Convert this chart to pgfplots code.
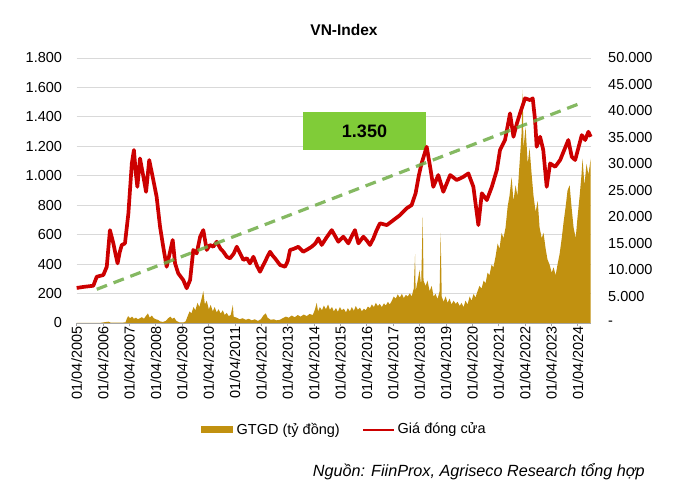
\documentclass[border=0pt]{standalone}
\usepackage{fontspec}
\setmainfont{Liberation Sans}
\usepackage{pgfplots}
\pgfplotsset{compat=1.18}
\definecolor{gold}{RGB}{193,145,16}
\definecolor{vnred}{RGB}{204,0,0}
\definecolor{trend}{RGB}{112,173,71}
\definecolor{boxgreen}{RGB}{128,204,56}
\definecolor{gridc}{RGB}{217,217,217}
\begin{document}
\begin{tikzpicture}[x=1pt,y=1pt]
\path[use as bounding box] (0,0) rectangle (694,500);
\pgfplotsset{
  base/.style={at={(76.7pt,177pt)}, anchor=south west, scale only axis,
    width=514.3pt, height=265pt, xmin=2005.25, xmax=2024.75,
    tick label style={font=\fontsize{14.5}{16}\selectfont},
    clip=false},
}
% axis A: grid, left labels, x axis
\begin{axis}[base, ymin=0, ymax=1800,
  axis y line*=left, axis x line*=bottom,
  ytick={0,200,400,600,800,1000,1200,1400,1600,1800},
  yticklabels={0,200,400,600,800,1.000,1.200,1.400,1.600,1.800},
  ymajorgrids, grid style={draw=gridc, line width=0.9pt},
  y axis line style={draw=none},
  major y tick style={draw=none},
  yticklabel style={anchor=east, inner sep=0pt, xshift=-11pt},
  xtick={2005.25,2006.25,2007.25,2008.25,2009.25,2010.25,2011.25,2012.25,2013.25,2014.25,2015.25,2016.25,2017.25,2018.25,2019.25,2020.25,2021.25,2022.25,2023.25,2024.25},
  xticklabels={01/04/2005,01/04/2006,01/04/2007,01/04/2008,01/04/2009,01/04/2010,01/04/2011,01/04/2012,01/04/2013,01/04/2014,01/04/2015,01/04/2016,01/04/2017,01/04/2018,01/04/2019,01/04/2020,01/04/2021,01/04/2022,01/04/2023,01/04/2024},
  xticklabel style={rotate=90, anchor=east, inner sep=0pt},
  x axis line style={draw=gray!70, line width=0.8pt, -},
  major x tick style={draw=gray!70, line width=0.8pt},
  tick align=outside, major tick length=3.5pt,
]
\addplot[draw=none] coordinates {(2005.25,0)};
\end{axis}
% axis B: trading value bars
\begin{axis}[base, ymin=0, ymax=50000, scaled y ticks=false,
  axis y line*=right, axis x line=none,
  ytick={0,5000,10000,15000,20000,25000,30000,35000,40000,45000,50000},
  yticklabels={-,5.000,10.000,15.000,20.000,25.000,30.000,35.000,40.000,45.000,50.000},
  y axis line style={draw=none}, major y tick style={draw=none},
  yticklabel style={anchor=west, inner sep=0pt, xshift=17pt},
]
\addplot[fill=gold, draw=none] table {
x y
2005.25 0
2006.10 0
2006.45 250
2006.55 50
2007.10 100
2007.15 800
2007.20 1300
2007.27 900
2007.35 1200
2007.42 800
2007.50 1000
2007.57 700
2007.65 900
2007.72 1100
2007.80 800
2007.87 1300
2007.95 1800
2008.02 1000
2008.10 1400
2008.17 900
2008.25 700
2008.33 600
2008.41 300
2008.52 200
2008.63 400
2008.72 900
2008.80 1200
2008.87 800
2008.95 1000
2009.03 400
2009.15 100
2009.30 100
2009.38 300
2009.45 1200
2009.53 2200
2009.60 1800
2009.68 3000
2009.75 2400
2009.83 3800
2009.90 3000
2009.98 4500
2010.05 6000
2010.11 3500
2010.18 4200
2010.26 2600
2010.33 3400
2010.41 2200
2010.48 3000
2010.56 2000
2010.63 2600
2010.71 1800
2010.79 2400
2010.86 1500
2010.94 1900
2011.01 1300
2011.09 1500
2011.17 3400
2011.20 1200
2011.32 1000
2011.43 700
2011.54 900
2011.66 600
2011.77 800
2011.89 500
2012.00 700
2012.12 400
2012.23 700
2012.34 1500
2012.42 1800
2012.49 1000
2012.61 600
2012.72 700
2012.83 500
2012.95 600
2013.06 900
2013.18 1200
2013.29 1000
2013.40 1400
2013.52 1100
2013.63 1500
2013.74 1200
2013.86 1600
2013.97 1300
2014.08 1700
2014.20 1500
2014.28 2500
2014.35 3800
2014.40 2200
2014.47 3000
2014.55 2400
2014.62 3300
2014.70 2600
2014.78 3500
2014.85 2500
2014.93 3000
2015.00 2200
2015.08 2800
2015.15 2100
2015.23 3000
2015.30 2400
2015.38 2700
2015.46 2000
2015.53 2800
2015.61 2200
2015.68 3000
2015.76 2300
2015.83 3200
2015.91 2500
2015.99 2900
2016.06 2200
2016.14 2700
2016.21 2400
2016.29 3100
2016.37 2800
2016.44 3500
2016.52 3000
2016.59 3800
2016.67 3200
2016.74 3600
2016.82 3000
2016.90 3700
2016.97 3300
2017.05 4000
2017.12 3500
2017.20 4200
2017.27 5000
2017.35 4600
2017.42 5400
2017.50 4800
2017.58 5500
2017.65 4700
2017.73 5300
2017.80 5000
2017.88 5600
2017.95 5000
2018.03 6500
2018.08 13000
2018.10 6000
2018.18 8000
2018.25 10000
2018.31 7000
2018.37 20000
2018.40 8000
2018.48 7000
2018.55 8000
2018.63 6000
2018.71 7000
2018.78 5000
2018.86 5500
2018.93 4500
2019.01 6000
2019.05 17000
2019.09 5000
2019.16 4000
2019.24 5000
2019.31 3800
2019.39 4600
2019.46 3500
2019.54 4200
2019.62 3600
2019.69 4000
2019.77 3200
2019.84 3800
2019.92 3000
2019.99 4200
2020.07 3500
2020.15 5000
2020.22 4200
2020.30 5500
2020.37 4800
2020.45 6000
2020.52 7000
2020.60 6500
2020.68 8000
2020.75 7500
2020.83 9500
2020.90 9000
2020.98 11000
2021.05 10500
2021.13 12500
2021.21 15000
2021.28 14000
2021.36 17000
2021.43 16000
2021.51 18000
2021.59 22000
2021.66 24000
2021.74 27500
2021.81 23000
2021.89 26000
2021.96 24000
2022.04 30000
2022.12 36000
2022.16 44000
2022.19 33000
2022.27 37000
2022.35 30000
2022.42 33000
2022.50 28000
2022.57 24000
2022.65 21000
2022.73 23000
2022.80 18000
2022.88 16000
2022.95 17000
2023.03 14000
2023.10 12000
2023.18 11000
2023.26 9500
2023.33 10500
2023.41 9000
2023.48 11000
2023.56 13000
2023.64 16000
2023.71 19000
2023.79 22000
2023.86 25000
2023.94 26000
2024.01 22000
2024.09 18000
2024.17 16000
2024.24 20000
2024.32 24000
2024.39 28000
2024.43 31000
2024.50 26000
2024.58 30000
2024.65 28000
2024.74 31000
2024.74 0
};
\end{axis}
% green box
\fill[boxgreen] (303,350) rectangle (426,388);
\node[font=\fontsize{18}{20}\selectfont\bfseries] at (364.5,369) {1.350};
% axis C: price line and trend line
\begin{axis}[base, ymin=0, ymax=1800, hide axis]
\addplot[vnred, line width=3.7pt, line join=round] table {
x y
2005.25 238
2005.50 245
2005.88 253
2006.01 314
2006.26 326
2006.39 382
2006.51 631
2006.64 541
2006.72 470
2006.80 405
2006.88 480
2006.96 530
2007.08 541
2007.21 745
2007.34 1084
2007.42 1175
2007.49 1020
2007.55 925
2007.65 1118
2007.72 1050
2007.78 993
2007.88 891
2008.00 1107
2008.13 993
2008.28 858
2008.41 654
2008.53 518
2008.66 382
2008.79 484
2008.89 564
2008.98 405
2009.10 337
2009.29 292
2009.42 236
2009.55 292
2009.67 496
2009.80 473
2009.93 586
2010.05 631
2010.18 496
2010.30 530
2010.43 518
2010.56 552
2010.70 505
2010.81 484
2010.94 450
2011.06 439
2011.20 470
2011.32 518
2011.45 470
2011.57 428
2011.70 440
2011.82 405
2011.95 450
2012.08 390
2012.20 348
2012.30 385
2012.39 416
2012.48 450
2012.58 484
2012.67 460
2012.77 439
2012.96 394
2013.15 382
2013.25 420
2013.34 496
2013.50 505
2013.65 518
2013.84 484
2014.00 500
2014.16 518
2014.30 540
2014.41 575
2014.54 530
2014.72 580
2014.92 631
2015.05 590
2015.17 552
2015.36 586
2015.55 541
2015.68 590
2015.80 631
2015.93 541
2016.12 586
2016.25 560
2016.37 530
2016.50 575
2016.62 630
2016.75 677
2017.01 665
2017.26 699
2017.51 733
2017.76 779
2017.95 801
2018.10 881
2018.22 1000
2018.32 1080
2018.52 1197
2018.65 1061
2018.77 925
2018.96 1005
2019.15 891
2019.41 1005
2019.66 971
2019.91 993
2020.10 1016
2020.29 925
2020.48 665
2020.61 881
2020.80 835
2020.99 925
2021.18 1039
2021.30 1175
2021.49 1243
2021.68 1424
2021.81 1265
2021.94 1356
2022.06 1424
2022.25 1526
2022.44 1514
2022.54 1526
2022.63 1378
2022.69 1197
2022.82 1265
2022.94 1175
2023.07 925
2023.20 1084
2023.39 1061
2023.58 1107
2023.89 1243
2024.02 1129
2024.15 1107
2024.40 1276
2024.53 1243
2024.65 1299
2024.74 1265
};
\addplot[trend, opacity=0.85, line width=3.2pt, dash pattern=on 11pt off 7pt] coordinates {(2006.01,229) (2024.46,1500)};
\end{axis}
% title
\node[font=\fontsize{15.5}{18}\selectfont\bfseries] at (344,470) {VN-Index};
% legend
\fill[gold] (201,66.5) rectangle (233,73.5);
\node[anchor=west, font=\fontsize{14.5}{16}\selectfont, inner sep=0pt] at (236.5,70) {GTGD (tỷ đồng)};
\draw[vnred, line width=2.6pt] (363,70) -- (394,70);
\node[anchor=west, font=\fontsize{14.5}{16}\selectfont, inner sep=0pt] at (397.5,70) {Giá đóng cửa};
% source
\node[anchor=east, font=\fontsize{16.2}{18}\selectfont\itshape, inner sep=0pt] at (645,28.5) {Nguồn: FiinProx, Agriseco Research tổng hợp};
\end{tikzpicture}
\end{document}
